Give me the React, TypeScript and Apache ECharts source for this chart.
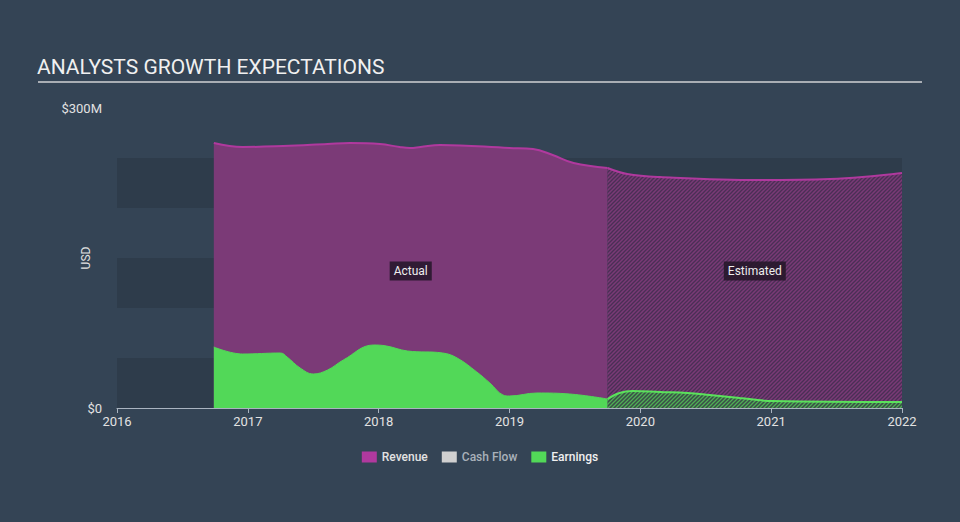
import React, { useEffect, useRef } from "react";
import * as echarts from "echarts";

const yearTicks = [2016, 2017, 2018, 2019, 2020, 2021, 2022];

const revenueActual: [number, number][] = [
  [2016.74, 265], [2016.96, 261], [2017.27, 262], [2017.61, 264], [2017.78, 265],
  [2018.01, 264], [2018.16, 261], [2018.24, 260], [2018.32, 261], [2018.47, 263],
  [2019.0, 260], [2019.18, 259], [2019.33, 253], [2019.49, 245], [2019.75, 240],
];
const revenueEstimated: [number, number][] = [
  [2019.75, 240], [2019.9, 234], [2020.15, 231], [2020.91, 228], [2021.45, 229], [2022.0, 235],
];
const earningsActual: [number, number][] = [
  [2016.74, 61], [2016.96, 54], [2017.25, 55], [2017.3, 51], [2017.4, 40], [2017.5, 34],
  [2017.61, 38], [2017.73, 48], [2017.96, 63], [2018.06, 62], [2018.22, 57], [2018.49, 55],
  [2018.6, 50], [2018.75, 36], [2018.85, 25], [2018.95, 13], [2019.0, 12], [2019.21, 15],
  [2019.46, 14], [2019.75, 9],
];
const earningsEstimated: [number, number][] = [
  [2019.75, 9], [2019.84, 15], [2019.94, 17], [2020.15, 16], [2020.36, 15], [2020.53, 13],
  [2020.76, 10], [2021.01, 7], [2022.0, 6],
];

function makeHatch(bg: string, fg: string) {
  const s = 4;
  const c = document.createElement("canvas");
  c.width = s;
  c.height = s;
  const ctx = c.getContext("2d")!;
  ctx.fillStyle = bg;
  ctx.fillRect(0, 0, s, s);
  ctx.strokeStyle = fg;
  ctx.lineWidth = 1.3;
  ctx.beginPath();
  ctx.moveTo(-1, s + 1);
  ctx.lineTo(s + 1, -1);
  ctx.moveTo(-1, 1);
  ctx.lineTo(1, -1);
  ctx.moveTo(s - 1, s + 1);
  ctx.lineTo(s + 1, s - 1);
  ctx.stroke();
  return { image: c, repeat: "repeat", imageWidth: s, imageHeight: s };
}

export default function App() {
  const ref = useRef<HTMLDivElement>(null);
  useEffect(() => {
    if (!ref.current) return;
    const chart = echarts.init(ref.current, null, { renderer: "svg" });
    const font = "Roboto";
    const actualMid = (revenueActual[0][0] + revenueActual[revenueActual.length - 1][0]) / 2;
    const estMid = (revenueEstimated[0][0] + revenueEstimated[revenueEstimated.length - 1][0]) / 2;
    const labelStyle = {
      show: true,
      position: "inside",
      color: "#eeeeee",
      fontSize: 12,
      fontFamily: font,
      backgroundColor: "rgba(35,22,40,0.85)",
      padding: [4, 4, 3, 4],
    };
    const option: any = {
      animation: false,
      backgroundColor: "#344455",
      textStyle: { fontFamily: font },
      title: {
        text: "ANALYSTS GROWTH EXPECTATIONS",
        left: 37,
        top: 56,
        padding: 0,
        textStyle: { color: "#f0f0f0", fontSize: 21, fontWeight: "normal", fontFamily: font },
      },
      graphic: [
        {
          type: "line",
          shape: { x1: 38, y1: 82, x2: 922, y2: 82 },
          style: { stroke: "#a9aeb4", lineWidth: 2 },
        },
        {
          type: "text",
          x: 86,
          y: 258,
          rotation: Math.PI / 2,
          style: {
            text: "USD",
            fill: "#e2e2e2",
            fontSize: 12,
            fontFamily: font,
            align: "center",
            verticalAlign: "middle",
          },
        },
      ],
      grid: { left: 117, right: 58, top: 108, bottom: 114 },
      legend: {
        bottom: 54,
        left: "center",
        icon: "rect",
        itemWidth: 15,
        itemHeight: 11,
        itemGap: 14,
        textStyle: { fontSize: 12, fontWeight: 500, fontFamily: font },
        data: [
          { name: "Revenue", textStyle: { color: "#e2e2e2" } },
          { name: "Cash Flow", textStyle: { color: "#a9b1ba" } },
          { name: "Earnings", textStyle: { color: "#f0f0f0" } },
        ],
      },
      xAxis: {
        type: "value",
        min: yearTicks[0],
        max: yearTicks[yearTicks.length - 1],
        interval: 1,
        axisLine: { show: true, lineStyle: { color: "#aab4c0", width: 1 } },
        axisTick: { show: true, length: 5, lineStyle: { color: "#aab4c0" } },
        axisLabel: {
          color: "#e2e2e2",
          fontSize: 13,
          margin: 7,
          fontFamily: font,
          formatter: (v: number) => String(v),
        },
        splitLine: { show: false },
      },
      yAxis: {
        type: "value",
        min: 0,
        max: 300,
        interval: 50,
        axisLine: { show: false },
        axisTick: { show: false },
        axisLabel: {
          color: "#e2e2e2",
          fontSize: 13,
          margin: 15,
          fontFamily: font,
          formatter: (v: number) => (v === 0 ? "$0" : v === 300 ? "$300M" : ""),
        },
        splitLine: { show: false },
        splitArea: { show: true, areaStyle: { color: ["#2e3c4b", "rgba(0,0,0,0)"] } },
      },
      series: [
        {
          name: "Revenue",
          type: "line",
          data: revenueActual,
          smooth: 0.4,
          showSymbol: false,
          itemStyle: { color: "#b0399e" },
          lineStyle: { color: "#b0399e", width: 2 },
          areaStyle: { color: "#7b3a77", opacity: 1 },
          z: 2,
          markPoint: {
            symbol: "rect",
            symbolSize: 1,
            itemStyle: { color: "rgba(0,0,0,0)" },
            label: { ...labelStyle, formatter: "Actual" },
            data: [{ coord: [actualMid, 137] }],
          },
        },
        {
          name: "Revenue",
          type: "line",
          data: revenueEstimated,
          smooth: 0.4,
          showSymbol: false,
          itemStyle: { color: "#b0399e" },
          lineStyle: { color: "#b0399e", width: 2 },
          areaStyle: { color: makeHatch("#7a3a76", "#4a2f55"), opacity: 1 },
          z: 2,
          markPoint: {
            symbol: "rect",
            symbolSize: 1,
            itemStyle: { color: "rgba(0,0,0,0)" },
            label: { ...labelStyle, formatter: "Estimated" },
            data: [{ coord: [estMid, 137] }],
          },
        },
        {
          name: "Cash Flow",
          type: "line",
          data: [],
          itemStyle: { color: "#d0d0d0" },
        },
        {
          name: "Earnings",
          type: "line",
          data: earningsActual,
          smooth: 0.4,
          showSymbol: false,
          itemStyle: { color: "#52d858" },
          lineStyle: { color: "#52d858", width: 1 },
          areaStyle: { color: "#52d858", opacity: 1 },
          z: 3,
        },
        {
          name: "Earnings",
          type: "line",
          data: earningsEstimated,
          smooth: 0.4,
          showSymbol: false,
          itemStyle: { color: "#52d858" },
          lineStyle: { color: "#5be25c", width: 2 },
          areaStyle: { color: makeHatch("#3a4d48", "#4fae55"), opacity: 1 },
          z: 3,
        },
      ],
    };
    chart.setOption(option);
    return () => chart.dispose();
  }, []);
  return (
    <div style={{ position: "fixed", left: 0, top: 0, width: 960, height: 522 }}>
      <div ref={ref} style={{ width: 960, height: 522 }} />
    </div>
  );
}
